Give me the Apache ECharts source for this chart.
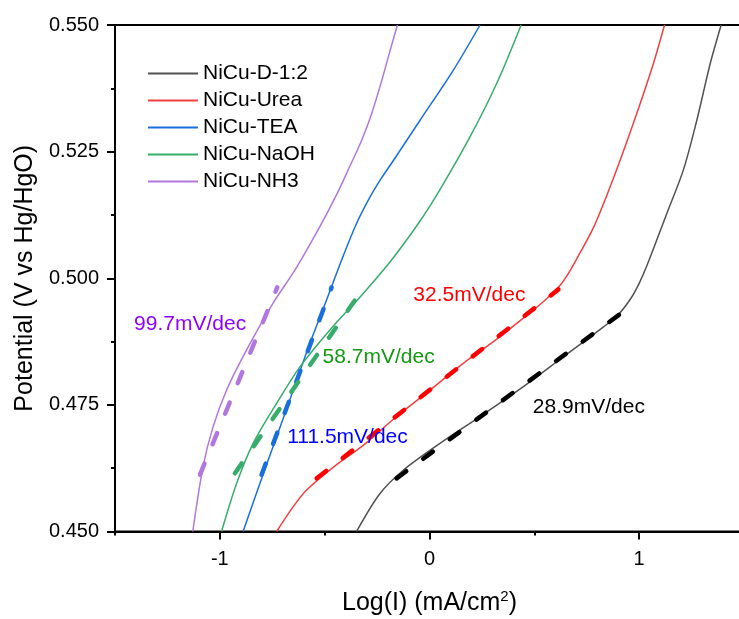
<!DOCTYPE html>
<html>
<head>
<meta charset="utf-8">
<script src="https://cdn.jsdelivr.net/npm/echarts@6/dist/echarts.min.js"></script>
<style>
  html, body { margin: 0; padding: 0; background: #fff; }
  #chart { width: 739px; height: 619px; }
</style>
</head>
<body>
<div id="chart"></div>
<script>
// Tafel curves: log(I) (mA/cm2) vs potential (V vs Hg/HgO)
const d12X = [-0.348, -0.236, -0.125, 0.050, 0.241, 0.448, 0.639, 0.830, 0.900, 0.960, 1.000, 1.037, 1.132, 1.211, 1.275, 1.339, 1.391];
const d12Y = [0.450, 0.4575, 0.4621, 0.4674, 0.4727, 0.4786, 0.4845, 0.4904, 0.4928, 0.4960, 0.4990, 0.5025, 0.5128, 0.5214, 0.5312, 0.5424, 0.550];

const ureaX = [-0.729, -0.650, -0.586, -0.443, -0.316, -0.157, 0.002, 0.161, 0.321, 0.480, 0.560, 0.623, 0.660, 0.695, 0.782, 0.862, 0.933, 1.005, 1.068, 1.121];
const ureaY = [0.450, 0.4549, 0.4582, 0.4632, 0.4670, 0.4727, 0.4779, 0.4832, 0.4880, 0.4932, 0.4960, 0.4986, 0.5008, 0.5033, 0.5100, 0.5181, 0.5260, 0.5345, 0.5424, 0.550];

const teaX = [-0.889, -0.809, -0.729, -0.650, -0.570, -0.491, -0.419, -0.348, -0.284, -0.230, -0.173, -0.045, 0.114, 0.241];
const teaY = [0.450, 0.4595, 0.4687, 0.4779, 0.4872, 0.4957, 0.5036, 0.5108, 0.5160, 0.5197, 0.5232, 0.5312, 0.5411, 0.550];

const naohX = [-0.992, -0.920, -0.841, -0.729, -0.618, -0.475, -0.316, -0.181, -0.045, 0.050, 0.193, 0.321, 0.437];
const naohY = [0.450, 0.4595, 0.4674, 0.4753, 0.4825, 0.4898, 0.4970, 0.5036, 0.5113, 0.5175, 0.5279, 0.5385, 0.550];

const nh3X = [-1.129, -1.080, -1.032, -0.968, -0.873, -0.746, -0.642, -0.523, -0.443, -0.379, -0.324, -0.276, -0.228, -0.189, -0.153];
const nh3Y = [0.450, 0.4628, 0.4707, 0.4779, 0.4858, 0.4951, 0.5016, 0.5102, 0.5165, 0.5222, 0.5272, 0.5325, 0.5390, 0.5448, 0.550];

// linear Tafel fits (start / end)
const fitD12X = [-0.157, 0.957], fitD12Y = [0.4605, 0.4944];
const fitUreaX = [-0.538, 0.615], fitUreaY = [0.4605, 0.4978];
const fitTeaX = [-0.801, -0.467], fitTeaY = [0.4612, 0.4982];
const fitNaohX = [-0.928, -0.308], fitNaohY = [0.4615, 0.4985];
const fitNh3X = [-1.095, -0.726], fitNh3Y = [0.4612, 0.4982];

// slope labels
const slopeText = ["28.9mV/dec", "32.5mV/dec", "111.5mV/dec", "58.7mV/dec", "99.7mV/dec"];
const slopeX = [0.493, -0.077, -0.679, -0.510, -1.409];
const slopeY = [0.4746, 0.4967, 0.4687, 0.4845, 0.4910];
const slopeColor = ["#000000", "#ff0000", "#0000ff", "#119a11", "#8f00ff"];

const names = ["NiCu-D-1:2", "NiCu-Urea", "NiCu-TEA", "NiCu-NaOH", "NiCu-NH3"];
const colors = ["#515151", "#f14040", "#1a6fdf", "#37ad6b", "#b177de"];
const fitColors = ["#000000", "#ff0000", "#1a6fdf", "#37ad6b", "#b177de"];

const xTicks = [-1, 0, 1];

const font = "Liberation Sans, Arial, sans-serif";
const zip = (xs, ys) => xs.map((x, i) => [x, ys[i]]);

const curves = [[d12X, d12Y], [ureaX, ureaY], [teaX, teaY], [naohX, naohY], [nh3X, nh3Y]];
const fits = [[fitD12X, fitD12Y], [fitUreaX, fitUreaY], [fitTeaX, fitTeaY], [fitNaohX, fitNaohY], [fitNh3X, fitNh3Y]];

const series = [];
curves.forEach((c, i) => {
  series.push({
    name: names[i],
    type: "line",
    data: zip(c[0], c[1]),
    smooth: 0.3,
    symbol: "none",
    color: colors[i],
    lineStyle: { width: 1.5 },
  });
});
fits.forEach((f, i) => {
  series.push({
    name: "fit" + i,
    type: "line",
    data: zip(f[0], f[1]),
    symbol: "none",
    z: 3,
    lineStyle: { color: fitColors[i], width: 4.5, type: [12, 21], cap: "round" },
  });
});
series.push({
  name: "slopes",
  type: "scatter",
  symbolSize: 0,
  z: 4,
  itemStyle: { opacity: 1 },
  data: slopeText.map((t, i) => ({
    value: [slopeX[i], slopeY[i]],
    label: {
      show: true,
      position: "right",
      distance: 0,
      formatter: t,
      color: slopeColor[i],
      fontSize: 21,
      fontFamily: font,
    },
  })),
});

const option = {
  animation: false,
  backgroundColor: "#fff",
  grid: {
    left: 115,
    top: 25,
    width: 629,
    height: 506.5,
    show: true,
    borderColor: "#000",
    borderWidth: 2,
    outerBoundsMode: "none",
  },
  legend: {
    data: names,
    orient: "vertical",
    left: 148,
    top: 63,
    padding: 0,
    icon: "rect",
    itemWidth: 50,
    itemHeight: 2,
    itemGap: 6,
    textStyle: { fontSize: 21, fontFamily: font, color: "#000", lineHeight: 21 },
  },
  xAxis: [
    {
      type: "value",
      min: -1.5,
      max: 1.5,
      interval: 0.5,
      name: "Log(I) (mA/cm{sup|2})",
      nameLocation: "middle",
      nameGap: 58,
      nameTextStyle: {
        fontSize: 25,
        fontFamily: font,
        color: "#000",
        rich: { sup: { fontSize: 15, fontFamily: font, color: "#000", verticalAlign: "top", padding: [0, 0, 12, 0] } },
      },
      axisLine: { onZero: false, lineStyle: { color: "#000", width: 2 } },
      axisTick: { length: 4, lineStyle: { color: "#000", width: 2 } },
      axisLabel: { customValues: xTicks, fontSize: 20, fontFamily: font, color: "#000", margin: 18 },
      splitLine: { show: false },
    },
    {
      type: "value",
      min: -1.5,
      max: 1.5,
      interval: 0.5,
      position: "bottom",
      axisLine: { show: false, onZero: false },
      axisTick: { customValues: xTicks, length: 8, lineStyle: { color: "#000", width: 2 } },
      axisLabel: { show: false },
      splitLine: { show: false },
    },
  ],
  yAxis: {
    type: "value",
    min: 0.45,
    max: 0.55,
    interval: 0.025,
    name: "Potential (V vs Hg/HgO)",
    nameLocation: "middle",
    nameGap: 77,
    nameTextStyle: { fontSize: 25, fontFamily: font, color: "#000" },
    axisLine: { show: true, onZero: false, lineStyle: { color: "#000", width: 2 } },
    axisTick: { length: 8, lineStyle: { color: "#000", width: 2 } },
    minorTick: { show: true, splitNumber: 2, length: 4, lineStyle: { color: "#000", width: 2 } },
    axisLabel: {
      fontSize: 20,
      fontFamily: font,
      color: "#000",
      margin: 16,
      formatter: (v) => v.toFixed(3),
    },
    splitLine: { show: false },
  },
  series: series,
};

const myChart = echarts.init(document.getElementById("chart"));
myChart.setOption(option);
</script>
</body>
</html>
